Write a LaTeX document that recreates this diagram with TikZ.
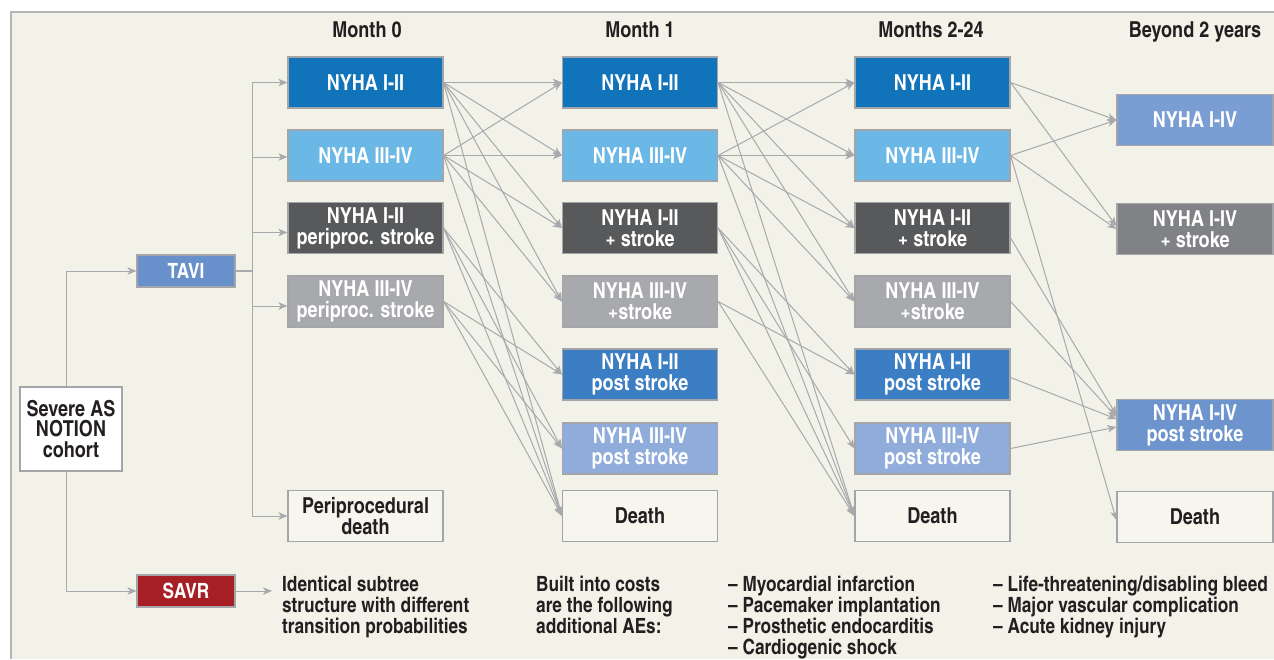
\documentclass[tikz,border=0pt]{standalone}
\usepackage{fontspec}
\setmainfont{texgyreheroscn-bold.otf}
\usetikzlibrary{arrows.meta}
\definecolor{bgc}{HTML}{F3F2E8}
\definecolor{framec}{HTML}{B5B5B5}
\definecolor{bdr}{HTML}{A3A5A8}
\definecolor{lnc}{HTML}{A7A9AC}
\definecolor{cA}{HTML}{1174BB}
\definecolor{cB}{HTML}{6BB8E7}
\definecolor{cC}{HTML}{58595B}
\definecolor{cD}{HTML}{A7A9AC}
\definecolor{cE}{HTML}{3C7EC3}
\definecolor{cF}{HTML}{8FACDA}
\definecolor{cG}{HTML}{7A9DD3}
\definecolor{cH}{HTML}{808285}
\definecolor{cI}{HTML}{6E94CE}
\definecolor{cT}{HTML}{6890CB}
\definecolor{cS}{HTML}{A61F24}
\definecolor{txt}{HTML}{231F20}
\definecolor{deathfill}{HTML}{F6F5EE}
\tikzset{
  box/.style={draw=bdr, line width=1.2pt, minimum width=155pt, minimum height=51pt,
    inner sep=0pt, align=center, text=white, font=\fontsize{22}{21}\selectfont},
  wbox/.style={box, fill=deathfill, text=txt},
  small/.style={draw=bdr, line width=1.2pt, minimum width=98pt, minimum height=32pt,
    inner sep=0pt, text=white, font=\fontsize{21}{21}\selectfont},
  hdr/.style={anchor=base, text=txt, font=\fontsize{22}{22}\selectfont},
  note/.style={anchor=north west, inner sep=0pt, align=left, text=txt,
    font=\fontsize{21}{21}\selectfont},
  tr/.style={draw=lnc, line width=1pt, -{Stealth[length=9pt,width=7.5pt,inset=2.5pt]}},
  ln/.style={draw=lnc, line width=1.2pt},
}
\begin{document}
\begin{tikzpicture}[x=1pt,y=-1pt]
\useasboundingbox (0,0) rectangle (1274,659);
\fill[white] (0,0) rectangle (1274,659);
\fill[bgc] (11,12) rectangle (1274,659);
\draw[framec, line width=1.5pt] (11,659) -- (11,12) -- (1274,12);

% headers
\node[hdr] (h0) at (367,37) {Month 0};
\node[hdr] (h1) at (640,37) {Month 1};
\node[hdr] (h2) at (931,37) {Months 2-24};
\node[hdr] (h3) at (1195,37) {Beyond 2 years};

% left part
\node[draw=bdr, line width=1.2pt, fill=white, minimum width=102pt, minimum height=84pt,
  inner sep=0pt, align=center, text=txt, font=\fontsize{22}{20.5}\selectfont]
  (coh) at (71,429) {Severe AS\\NOTION\\cohort};
\node[small, fill=cT] (tavi) at (186,271) {TAVI};
\node[small, fill=cS] (savr) at (186,591) {SAVR};

% Month 0
\node[box, fill=cA] (a1) at (365.5,82.5) {NYHA I-II};
\node[box, fill=cB] (a2) at (365.5,155.5) {NYHA III-IV};
\node[box, fill=cC] (a3) at (365.5,228) {NYHA I-II\\periproc. stroke};
\node[box, fill=cD] (a4) at (365.5,301.5) {NYHA III-IV\\periproc. stroke};
\node[wbox] (a7) at (365.5,516) {Periprocedural\\death};

% Month 1
\node[box, fill=cA] (b1) at (640,82.5) {NYHA I-II};
\node[box, fill=cB] (b2) at (640,155.5) {NYHA III-IV};
\node[box, fill=cC] (b3) at (640,228) {NYHA I-II\\+ stroke};
\node[box, fill=cD] (b4) at (640,301.5) {NYHA III-IV\\+stroke};
\node[box, fill=cE] (b5) at (640,374.5) {NYHA I-II\\post stroke};
\node[box, fill=cF] (b6) at (640,448.5) {NYHA III-IV\\post stroke};
\node[wbox] (b7) at (640,516) {Death};

% Months 2-24
\node[box, fill=cA] (c1) at (932.5,82.5) {NYHA I-II};
\node[box, fill=cB] (c2) at (932.5,155.5) {NYHA III-IV};
\node[box, fill=cC] (c3) at (932.5,228) {NYHA I-II\\+ stroke};
\node[box, fill=cD] (c4) at (932.5,301.5) {NYHA III-IV\\+stroke};
\node[box, fill=cE] (c5) at (932.5,374.5) {NYHA I-II\\post stroke};
\node[box, fill=cF] (c6) at (932.5,448.5) {NYHA III-IV\\post stroke};
\node[wbox] (c7) at (932.5,516) {Death};

% Beyond
\node[box, fill=cG, minimum width=156pt] (d1) at (1195,120) {NYHA I-IV};
\node[box, fill=cH, minimum width=156pt] (d2) at (1195,229) {NYHA I-IV\\+ stroke};
\node[box, fill=cI, minimum width=156pt] (d3) at (1195,425) {NYHA I-IV\\post stroke};
\node[wbox, minimum width=156pt] (d4) at (1195,517) {Death};

% left connectors
\draw[tr] ([xshift=-5pt]coh.north) |- (tavi.west);
\draw[tr] ([xshift=-5pt]coh.south) |- (savr.west);
\coordinate (split) at (252,271);
\draw[ln] (tavi.east) -- (split);
\foreach \t/\s in {a1/0, a2/-1.5, a3/-4.5, a4/-4.5, a7/0}
  \draw[tr] (split) |- ([yshift=\s pt]\t.west);
\coordinate (savrend) at (272,591);
\draw[tr] (savr.east) -- (savrend);

% Month 0 -> Month 1
\foreach \s in {a1,a2}
  \foreach \t in {b1,b2,b3,b4,b7}
    \draw[tr] (\s.east) -- (\t.west);
\foreach \s in {a3,a4}
  \foreach \t in {b5,b6,b7}
    \draw[tr] (\s.east) -- (\t.west);

% Month 1 -> Months 2-24
\foreach \s in {b1,b2}
  \foreach \t in {c1,c2,c3,c4,c7}
    \draw[tr] (\s.east) -- (\t.west);
\foreach \t in {c5,c6,c7}
  \draw[tr] (b3.east) -- (\t.west);
\foreach \t in {c5,c7}
  \draw[tr] (b4.east) -- (\t.west);

% Months 2-24 -> Beyond
\draw[tr] (c1.east) -- (d1.west);
\draw[tr] (c1.east) -- ([yshift=3pt]d2.west);
\draw[tr] (c2.east) -- (d1.west);
\draw[tr] (c2.east) -- (d2.west);
\draw[tr] (c2.east) -- ([yshift=-3pt]d4.west);
\draw[tr] ([yshift=-10pt]c3.east) -- ([yshift=10pt]d3.west);
\draw[tr] (c4.east) -- ([yshift=8pt]d3.west);
\draw[tr] ([yshift=-3pt]c5.east) -- ([yshift=6pt]d3.west);
\draw[tr] (c6.east) -- ([yshift=-2pt]d3.west);

% notes
\node[note] (ident) at (282,576) {Identical subtree\\structure with different\\transition probabilities};
\node[note] (built) at (536,576) {Built into costs\\are the following\\additional AEs:};
\node[note] (ae1) at (728,576) {– Myocardial infarction\\– Pacemaker implantation\\– Prosthetic endocarditis\\– Cardiogenic shock};
\node[note] (ae2) at (993,576) {– Life-threatening/disabling bleed\\– Major vascular complication\\– Acute kidney injury};
\end{tikzpicture}
\end{document}
